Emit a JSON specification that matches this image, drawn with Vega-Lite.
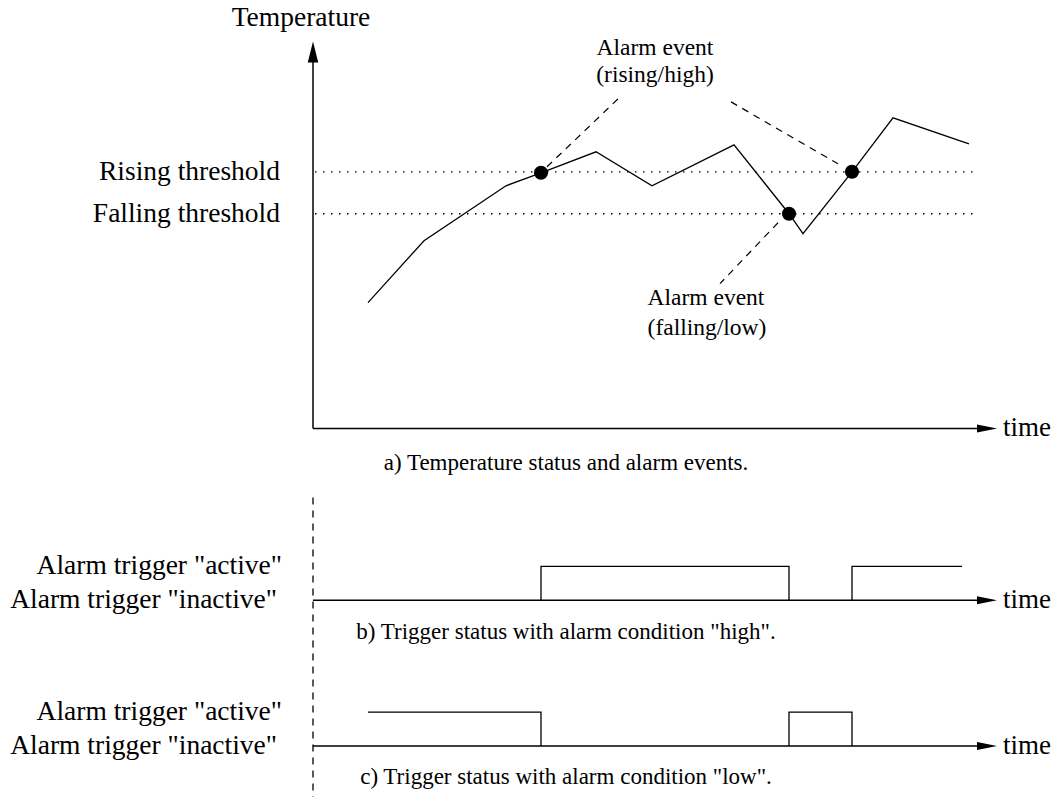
{
  "$schema": "https://vega.github.io/schema/vega-lite/v6.json",
  "width": 1057,
  "height": 798,
  "autosize": {"type": "fit", "contains": "padding"},
  "padding": 0,
  "background": "white",
  "config": {"view": {"stroke": null}, "text": {"font": "Liberation Serif", "fontSize": 25, "color": "black", "baseline": "middle"}},
  "datasets": {
    "temp": [
      {"x": 368, "y": 303}, {"x": 424, "y": 241}, {"x": 506, "y": 186}, {"x": 541, "y": 173},
      {"x": 596, "y": 152}, {"x": 652, "y": 186}, {"x": 734, "y": 145}, {"x": 789, "y": 214},
      {"x": 803, "y": 234}, {"x": 852, "y": 172}, {"x": 893, "y": 118}, {"x": 969, "y": 144}
    ],
    "thresholds": [
      {"x": 315, "x2": 975, "y": 172},
      {"x": 315, "x2": 975, "y": 214}
    ],
    "axes": [
      {"x": 313, "y": 60, "x2": 313, "y2": 429},
      {"x": 313, "y": 429, "x2": 980, "y2": 429},
      {"x": 313, "y": 601, "x2": 980, "y2": 601},
      {"x": 313, "y": 747, "x2": 980, "y2": 747}
    ],
    "rightArrows": [{"x": 987, "y": 429}, {"x": 987, "y": 601}, {"x": 987, "y": 747}],
    "upArrows": [{"x": 313, "y": 52}],
    "leaders": [
      {"x": 547, "y": 167, "x2": 618, "y2": 99},
      {"x": 731, "y": 102, "x2": 838, "y2": 164},
      {"x": 778, "y": 223, "x2": 720, "y2": 284}
    ],
    "vdash": [{"x": 313, "y": 498, "x2": 313, "y2": 798}],
    "events": [{"x": 541, "y": 173}, {"x": 789, "y": 214}, {"x": 852, "y": 172}],
    "steps": [
      {"s": "b", "o": 1, "x": 541, "y": 601}, {"s": "b", "o": 2, "x": 541, "y": 567},
      {"s": "b", "o": 3, "x": 789, "y": 567}, {"s": "b", "o": 4, "x": 789, "y": 601},
      {"s": "b2", "o": 1, "x": 852, "y": 601}, {"s": "b2", "o": 2, "x": 852, "y": 567},
      {"s": "b2", "o": 3, "x": 962, "y": 567},
      {"s": "c", "o": 1, "x": 368, "y": 713}, {"s": "c", "o": 2, "x": 541, "y": 713},
      {"s": "c", "o": 3, "x": 541, "y": 747},
      {"s": "c2", "o": 1, "x": 789, "y": 747}, {"s": "c2", "o": 2, "x": 789, "y": 713},
      {"s": "c2", "o": 3, "x": 852, "y": 713}, {"s": "c2", "o": 4, "x": 852, "y": 747}
    ],
    "textRight": [
      {"t": "Rising threshold", "x": 280, "y": 172},
      {"t": "Falling threshold", "x": 280, "y": 214},
      {"t": "Alarm trigger \"active\"", "x": 282, "y": 567},
      {"t": "Alarm trigger \"inactive\"", "x": 277, "y": 601},
      {"t": "Alarm trigger \"active\"", "x": 282, "y": 713},
      {"t": "Alarm trigger \"inactive\"", "x": 277, "y": 747}
    ],
    "textCenterBig": [
      {"t": "Temperature", "x": 301, "y": 18}
    ],
    "textCenter": [
      {"t": "Alarm event", "x": 655, "y": 48},
      {"t": "(rising/high)", "x": 655, "y": 75},
      {"t": "Alarm event", "x": 706, "y": 298},
      {"t": "(falling/low)", "x": 707, "y": 328}
    ],
    "captions": [
      {"t": "a) Temperature status and alarm events.", "x": 566, "y": 464},
      {"t": "b) Trigger status with alarm condition \"high\".", "x": 566, "y": 633},
      {"t": "c) Trigger status with alarm condition \"low\".", "x": 566, "y": 778}
    ],
    "textLeft": [
      {"t": "time", "x": 1003, "y": 429},
      {"t": "time", "x": 1003, "y": 601},
      {"t": "time", "x": 1003, "y": 747}
    ]
  },
  "encoding": {
    "x": {"field": "x", "type": "quantitative", "scale": {"domain": [0, 1057], "nice": false, "zero": false}, "axis": null},
    "y": {"field": "y", "type": "quantitative", "scale": {"domain": [0, 798], "nice": false, "zero": false, "reverse": true}, "axis": null}
  },
  "layer": [
    {"data": {"name": "thresholds"}, "mark": {"type": "rule", "color": "black", "strokeWidth": 1.3, "strokeDash": [1.5, 6.5]},
     "encoding": {"x2": {"field": "x2"}}},
    {"data": {"name": "axes"}, "mark": {"type": "rule", "color": "black", "strokeWidth": 1.5},
     "encoding": {"x2": {"field": "x2"}, "y2": {"field": "y2"}}},
    {"data": {"name": "vdash"}, "mark": {"type": "rule", "color": "black", "strokeWidth": 1.3, "strokeDash": [7, 6]},
     "encoding": {"x2": {"field": "x2"}, "y2": {"field": "y2"}}},
    {"data": {"name": "leaders"}, "mark": {"type": "rule", "color": "black", "strokeWidth": 1.2, "strokeDash": [7, 6]},
     "encoding": {"x2": {"field": "x2"}, "y2": {"field": "y2"}}},
    {"data": {"name": "rightArrows"}, "mark": {"type": "point", "shape": "M-1,-0.4L1,0L-1,0.4Z", "filled": true, "color": "black", "size": 400, "opacity": 1}},
    {"data": {"name": "upArrows"}, "mark": {"type": "point", "shape": "M-0.5,1L0,-1L0.5,1Z", "filled": true, "color": "black", "size": 441, "opacity": 1}},
    {"data": {"name": "temp"}, "mark": {"type": "line", "color": "black", "strokeWidth": 1.3},
     "encoding": {"order": {"field": "x", "type": "quantitative"}}},
    {"data": {"name": "steps"}, "mark": {"type": "line", "color": "black", "strokeWidth": 1.3},
     "encoding": {"detail": {"field": "s"}, "order": {"field": "o", "type": "quantitative"}}},
    {"data": {"name": "events"}, "mark": {"type": "point", "shape": "circle", "filled": true, "color": "black", "size": 200, "opacity": 1}},
    {"data": {"name": "textRight"}, "mark": {"type": "text", "align": "right", "fontSize": 27.5}, "encoding": {"text": {"field": "t"}}},
    {"data": {"name": "textCenterBig"}, "mark": {"type": "text", "align": "center", "fontSize": 27.5}, "encoding": {"text": {"field": "t"}}},
    {"data": {"name": "textCenter"}, "mark": {"type": "text", "align": "center", "fontSize": 23.5}, "encoding": {"text": {"field": "t"}}},
    {"data": {"name": "captions"}, "mark": {"type": "text", "align": "center", "fontSize": 23}, "encoding": {"text": {"field": "t"}}},
    {"data": {"name": "textLeft"}, "mark": {"type": "text", "align": "left", "fontSize": 27}, "encoding": {"text": {"field": "t"}}}
  ]
}
